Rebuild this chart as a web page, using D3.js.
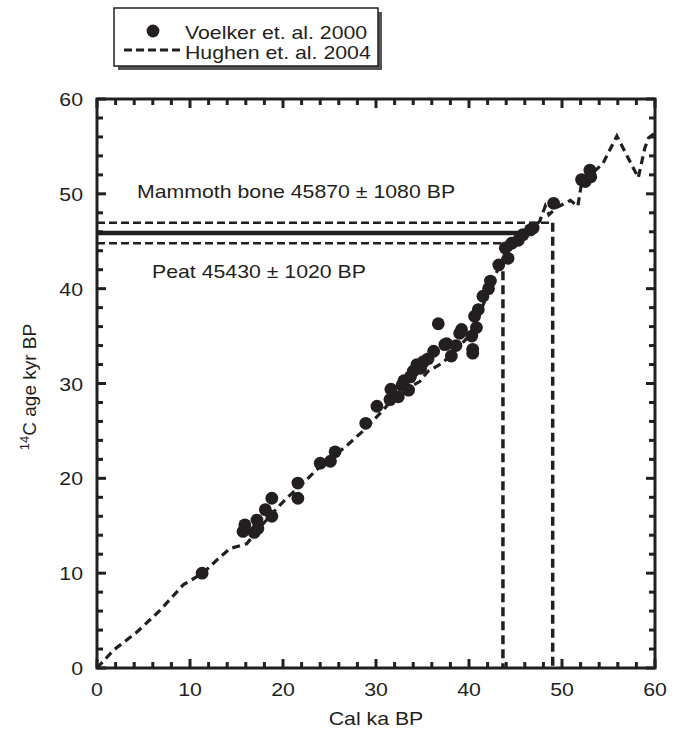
<!DOCTYPE html>
<html><head><meta charset="utf-8">
<script src="https://cdn.jsdelivr.net/npm/d3@7"></script>
<style>body{margin:0;background:#fff}svg{display:block;font-family:"Liberation Sans",Arial,sans-serif}</style>
</head><body><svg id="c" width="678" height="736"></svg>
<script>
// Voelker et al. 2000 points [cal ka BP, 14C kyr BP]
const voelkerCal = [11.3,15.7,15.9,16.9,17.2,17.3,18.1,18.8,18.8,21.6,21.6,24.0,25.1,25.6,28.9,30.1,31.5,31.6,32.4,32.8,33.0,33.5,33.7,34.0,34.4,34.8,35.1,35.6,36.2,36.7,37.4,37.6,38.1,38.6,39.0,39.2,40.3,40.4,40.4,40.6,40.8,41.0,41.5,42.1,42.3,43.2,43.9,44.2,44.6,45.3,45.8,46.6,46.9,49.1,52.1,52.5,53.0,53.1];
const voelkerC14 = [10.0,14.4,15.1,14.3,15.6,14.7,16.7,16.0,17.9,19.5,17.9,21.6,21.8,22.8,25.8,27.6,28.3,29.4,28.6,29.8,30.3,29.3,30.7,31.3,32.0,31.6,32.3,32.6,33.4,36.3,34.1,34.2,32.9,34.0,35.3,35.7,35.0,33.2,33.6,37.1,35.9,37.8,39.2,40.0,40.8,42.5,44.3,43.2,44.8,45.1,45.7,46.2,46.4,49.0,51.5,51.3,52.5,51.8];
// Hughen et al. 2004 curve
const hughenCal = [0,1.8,4.3,6.8,9.3,11.4,12.9,14.3,16.1,17.5,19.3,20.4,22.5,23.6,25.8,26.8,28.5,30.1,31.5,33.0,34.7,35.6,37.2,38.5,40.0,41.0,42.0,43.0,44.0,45.5,47.0,47.6,48.2,48.6,49.5,50.9,51.7,52.1,53.3,54.4,55.9,57.0,58.2,58.9,59.3,60];
const hughenC14 = [0,1.9,3.8,6.1,8.8,10.0,11.4,12.6,13.1,14.8,16.8,17.9,19.8,20.9,22.6,23.4,24.9,26.5,28.0,29.3,30.2,31.3,32.2,33.5,35.0,37.0,39.5,41.8,43.5,45.5,46.5,47.1,48.7,47.8,48.6,49.3,48.7,51.1,52.2,53.2,56.1,54.0,51.7,54.8,55.9,56.4];
// Mammoth bone 14C age and 1-sigma, calibrated intersections
const mammothAge = [45.87, 1.08];
const calHits = [43.65, 45.5, 49.0];
const xTicks = [0,10,20,30,40,50,60];
const yTicks = [0,10,20,30,40,50,60];
const legendLabels = ["Voelker et. al. 2000","Hughen et. al. 2004"];
const annoLabels = ["Mammoth bone 45870 \u00b1 1080 BP","Peat 45430 \u00b1 1020 BP"];

const svg = d3.select("#c");
const L=97,R=655,T=99,B=668;
const x = d3.scaleLinear().domain([0,60]).range([L,R]);
const y = d3.scaleLinear().domain([0,60]).range([B,T]);
const ink="#231f20";
const SX = 1.12;
function stretch(sel){
  sel.each(function(){
    const l=this.getComputedTextLength();
    d3.select(this).attr("textLength", l*SX).attr("lengthAdjust","spacingAndGlyphs");
  });
}

// reference lines
const g = svg.append("g");
const hi = mammothAge[0]+mammothAge[1], lo = mammothAge[0]-mammothAge[1];
g.append("line").attr("x1",x(0)).attr("x2",x(calHits[1])).attr("y1",y(mammothAge[0])).attr("y2",y(mammothAge[0]))
 .attr("stroke",ink).attr("stroke-width",4.5);
g.append("line").attr("x1",x(0)).attr("x2",x(calHits[2])).attr("y1",y(hi)).attr("y2",y(hi))
 .attr("stroke",ink).attr("stroke-width",2.5).attr("stroke-dasharray","8,4");
g.append("line").attr("x1",x(0)).attr("x2",x(calHits[0])).attr("y1",y(lo)).attr("y2",y(lo))
 .attr("stroke",ink).attr("stroke-width",2.5).attr("stroke-dasharray","8,4");
g.append("line").attr("x1",x(calHits[2])).attr("x2",x(calHits[2])).attr("y1",y(hi)).attr("y2",y(0))
 .attr("stroke",ink).attr("stroke-width",3.5).attr("stroke-dasharray","9,5");
g.append("line").attr("x1",x(calHits[0])).attr("x2",x(calHits[0])).attr("y1",y(lo)).attr("y2",y(0))
 .attr("stroke",ink).attr("stroke-width",3.5).attr("stroke-dasharray","9,5");

// curve
const line = d3.line().x(d=>x(d[0])).y(d=>y(d[1]));
svg.append("path").datum(hughenCal.map((c,i)=>[c,hughenC14[i]])).attr("d",line)
 .attr("fill","none").attr("stroke",ink).attr("stroke-width",3.2).attr("stroke-dasharray","8,5");

// dots
svg.append("g").selectAll("circle").data(voelkerCal.map((c,i)=>[c,voelkerC14[i]])).join("circle")
 .attr("cx",d=>x(d[0])).attr("cy",d=>y(d[1])).attr("r",6.4).attr("fill",ink);

// axes ticks (inward, all four sides)
const minor = d3.range(0,61,2).filter(v=>v%10!==0);
function ticks(sel, vals, len){
  vals.forEach(v=>{
    sel.append("line").attr("x1",x(v)).attr("x2",x(v)).attr("y1",B).attr("y2",B-len);
    sel.append("line").attr("x1",x(v)).attr("x2",x(v)).attr("y1",T).attr("y2",T+len);
    sel.append("line").attr("y1",y(v)).attr("y2",y(v)).attr("x1",L).attr("x2",L+len);
    sel.append("line").attr("y1",y(v)).attr("y2",y(v)).attr("x1",R).attr("x2",R-len);
  });
}
const tg = svg.append("g").attr("stroke",ink).attr("stroke-width",3);
ticks(tg, xTicks, 9);
ticks(tg, minor, 6);
svg.append("rect").attr("x",L).attr("y",T).attr("width",R-L).attr("height",B-T)
 .attr("fill","none").attr("stroke",ink).attr("stroke-width",3);

// tick labels
svg.append("g").selectAll("text").data(xTicks).join("text").attr("x",d=>x(d)).attr("y",696)
 .attr("text-anchor","middle").attr("font-size",19).attr("fill",ink).text(d=>d).call(stretch);
svg.append("g").selectAll("text").data(yTicks).join("text").attr("x",83).attr("y",d=>y(d)+7)
 .attr("text-anchor","end").attr("font-size",19).attr("fill",ink).text(d=>d).call(stretch);

// axis titles
svg.append("text").attr("x",376).attr("y",725).attr("text-anchor","middle").attr("font-size",19).attr("fill",ink).text("Cal ka BP").call(stretch);
const yt = svg.append("text").attr("transform","translate(36,387) rotate(-90)").attr("text-anchor","middle").attr("font-size",19).attr("fill",ink);
yt.append("tspan").attr("font-size",13).attr("dy",-7).text("14");
yt.append("tspan").attr("dy",7).text("C age kyr BP");

// annotations
svg.append("text").attr("x",137).attr("y",198).attr("font-size",19).attr("fill",ink).text(annoLabels[0]).call(stretch);
svg.append("text").attr("x",152).attr("y",278).attr("font-size",19).attr("fill",ink).text(annoLabels[1]).call(stretch);

// legend
const lg = svg.append("g");
lg.append("rect").attr("x",118).attr("y",12).attr("width",264).attr("height",58).attr("fill","#555");
lg.append("rect").attr("x",114).attr("y",8).attr("width",264).attr("height",58).attr("fill","#fff").attr("stroke",ink).attr("stroke-width",1.5);
lg.append("circle").attr("cx",153).attr("cy",31).attr("r",6.4).attr("fill",ink);
lg.append("line").attr("x1",124).attr("x2",183).attr("y1",50).attr("y2",50).attr("stroke",ink).attr("stroke-width",3).attr("stroke-dasharray","8,4");
lg.append("text").attr("x",185).attr("y",39).attr("font-size",19).attr("fill",ink).text(legendLabels[0]).call(stretch);
lg.append("text").attr("x",185).attr("y",59).attr("font-size",19).attr("fill",ink).text(legendLabels[1]).call(stretch);
</script></body></html>
